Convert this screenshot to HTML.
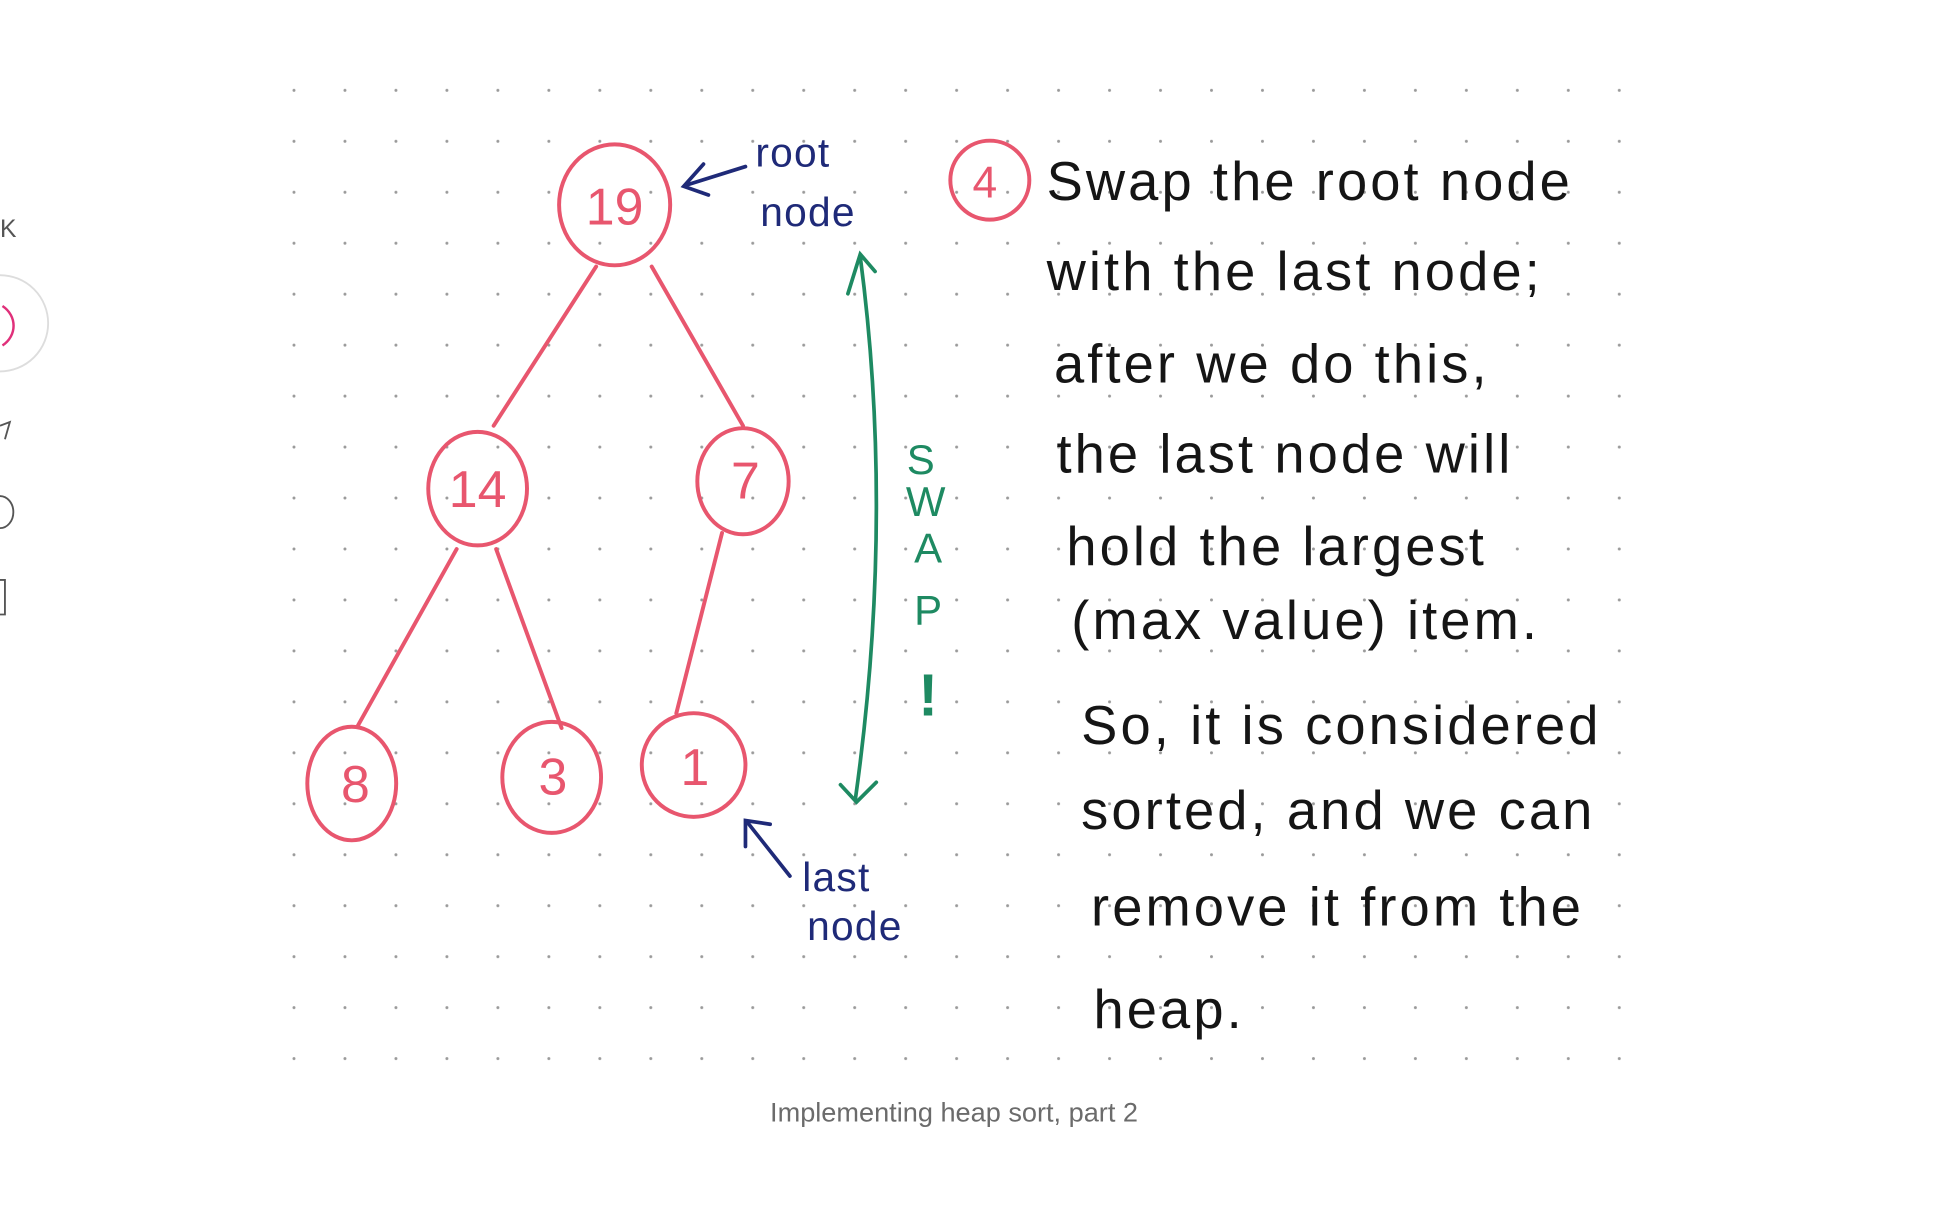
<!DOCTYPE html>
<html><head><meta charset="utf-8"><style>
html,body{margin:0;padding:0;background:#fff;width:1934px;height:1208px;overflow:hidden}
svg{display:block}
.hw{font-family:"Liberation Sans",sans-serif;font-size:44px;fill:#151515;letter-spacing:2.5px}
.n{font-family:"Liberation Sans",sans-serif;font-size:42px;fill:#e8566e;text-anchor:middle}
.blue{font-family:"Liberation Sans",sans-serif;font-size:33px;fill:#1f2a78;letter-spacing:1px}
</style></head><body>
<svg width="1934" height="1208" viewBox="0 0 1567 979" preserveAspectRatio="none" xmlns="http://www.w3.org/2000/svg">
<defs>
<pattern id="dots" x="237" y="72" width="41.3" height="41.3" patternUnits="userSpaceOnUse">
<circle cx="1.2" cy="1.2" r="1.2" fill="#9a9a9a"/>
</pattern>
</defs>
<rect x="232" y="68" width="1115" height="792" fill="url(#dots)"/>
<text x="0" y="192" font-family="Liberation Sans,sans-serif" font-size="20" fill="#555">K</text>
<circle cx="0" cy="262" r="39" fill="none" stroke="#ddd" stroke-width="1.5"/>
<path d="M2 248 C14 256 14 272 2 280" fill="none" stroke="#e0307a" stroke-width="2"/>
<path d="M0 345 L8 342 L4 356" fill="none" stroke="#555" stroke-width="1.5"/>
<path d="M0 402 A10 12 0 0 1 0 428" fill="none" stroke="#555" stroke-width="1.5"/>
<path d="M0 470 L4 470 L4 498 L0 498" fill="none" stroke="#555" stroke-width="1.5"/>
<g stroke="#e8566e" stroke-width="3.2" fill="none" stroke-linecap="round">
<line x1="483" y1="216" x2="400" y2="345"/>
<line x1="528" y1="216" x2="602" y2="345"/>
<line x1="370" y1="445" x2="290" y2="588"/>
<line x1="402" y1="445" x2="455" y2="590"/>
<line x1="585" y1="432" x2="548" y2="578"/>
<ellipse cx="498" cy="166" rx="45" ry="49"/>
<ellipse cx="387" cy="396" rx="40" ry="46"/>
<ellipse cx="602" cy="390" rx="37" ry="43"/>
<ellipse cx="285" cy="635" rx="36" ry="46"/>
<ellipse cx="447" cy="630" rx="40" ry="45"/>
<ellipse cx="562" cy="620" rx="42" ry="42"/>
<ellipse cx="802" cy="146" rx="32" ry="32"/>
</g>
<text class="n" x="498" y="182">19</text>
<text class="n" x="387" y="411">14</text>
<text class="n" x="604" y="404">7</text>
<text class="n" x="288" y="650">8</text>
<text class="n" x="448" y="644">3</text>
<text class="n" x="563" y="636">1</text>
<text class="n" x="798" y="160" style="font-size:36px">4</text>
<g stroke="#1f2a78" stroke-width="3" fill="none" stroke-linecap="round">
<line x1="556" y1="150" x2="604" y2="135"/>
<polyline points="570,133 554,151 574,158"/>
<line x1="640" y1="710" x2="606" y2="667"/>
<polyline points="604,686 604,665 624,668"/>
</g>
<text class="blue" x="612" y="135">root</text>
<text class="blue" x="616" y="183">node</text>
<text class="blue" x="650" y="722">last</text>
<text class="blue" x="654" y="762">node</text>
<g stroke="#1e8a62" stroke-width="3" fill="none" stroke-linecap="round">
<path d="M697 208 Q725 420 693 648"/>
<polyline points="687,238 697,206 709,220"/>
<polyline points="681,636 694,650 710,634"/>
</g>
<g font-family="Liberation Sans,sans-serif" font-size="34" fill="#1e8a62" text-anchor="middle">
<text x="746" y="384">S</text><text x="750" y="418">W</text><text x="752" y="456">A</text><text x="752" y="506">P</text>
<text x="752" y="580" font-size="48" font-weight="bold">!</text>
</g>
<text class="hw" x="848" y="162">Swap the root node</text>
<text class="hw" x="848" y="235">with the last node;</text>
<text class="hw" x="854" y="310">after we do this,</text>
<text class="hw" x="856" y="383">the last node will</text>
<text class="hw" x="864" y="458">hold the largest</text>
<text class="hw" x="868" y="518">(max value) item.</text>
<text class="hw" x="876" y="603">So, it is considered</text>
<text class="hw" x="876" y="672">sorted, and we can</text>
<text class="hw" x="884" y="750">remove it from the</text>
<text class="hw" x="886" y="833">heap.</text>
<text x="773" y="909" text-anchor="middle" font-family="Liberation Sans,sans-serif" font-size="22" fill="#6b6b6b">Implementing heap sort, part 2</text>
</svg>
</body></html>
